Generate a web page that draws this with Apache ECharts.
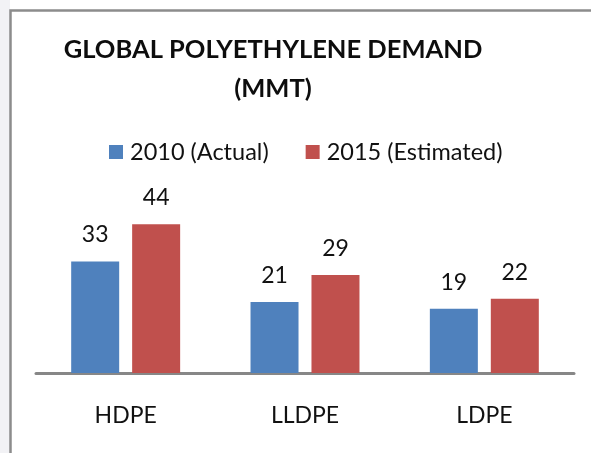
<!DOCTYPE html>
<html>
<head>
<meta charset="utf-8">
<script src="https://cdn.jsdelivr.net/npm/echarts@6/dist/echarts.min.js"></script>
<style>
    html, body { margin: 0; padding: 0; background: #fff; }
    #chart { width: 591px; height: 453px; }
</style>
</head>
<body>
<div id="chart"></div>
<script>
    // 数据
    const categories = ['HDPE', 'LLDPE', 'LDPE'];
    const seriesNames = ['2010 (Actual)', '2015 (Estimated)'];
    const actual2010 = [33, 21, 19];
    const estimated2015 = [44, 29, 22];

    const font = 'Lato';
    const chart = echarts.init(document.getElementById('chart'));

    const barLabel = {
        show: true,
        position: 'top',
        distance: 15,
        color: '#111',
        fontFamily: font,
        fontSize: 23
    };

    const option = {
        animation: false,
        color: ['#4f81bd', '#c0504d'],
        title: {
            text: 'GLOBAL POLYETHYLENE DEMAND\n(MMT)',
            left: 273,
            top: 30,
            padding: 0,
            textAlign: 'center',
            textStyle: {
                fontFamily: font,
                fontWeight: 'bold',
                fontSize: 25.5,
                lineHeight: 39,
                color: '#0d0d0d'
            }
        },
        legend: {
            data: seriesNames,
            left: 109,
            top: 140,
            padding: 0,
            itemWidth: 14,
            itemHeight: 14,
            itemGap: 37,
            icon: 'rect',
            textStyle: {
                fontFamily: font,
                fontSize: 23.5,
                color: '#111',
                padding: [0, 0, 0, 2]
            }
        },
        grid: {
            left: 36,
            right: 17,
            top: 204,
            bottom: 80,
            containLabel: false
        },
        xAxis: {
            type: 'category',
            data: categories,
            axisLine: {
                lineStyle: { color: '#878787', width: 3 }
            },
            axisTick: { show: false },
            axisLabel: {
                margin: 31,
                color: '#111',
                fontFamily: font,
                fontSize: 23
            }
        },
        yAxis: {
            type: 'value',
            min: 0,
            max: 50,
            show: false
        },
        series: [
            {
                name: seriesNames[0],
                type: 'bar',
                barWidth: 48,
                barGap: '27%',
                data: actual2010,
                label: barLabel
            },
            {
                name: seriesNames[1],
                type: 'bar',
                barWidth: 48,
                barGap: '27%',
                data: estimated2015,
                label: barLabel
            }
        ],
        graphic: [
            // 左侧背景
            {
                type: 'rect',
                shape: { x: 0, y: 0, width: 10, height: 453 },
                style: { fill: '#f2f2f5' },
                silent: true
            },
            // 边框
            {
                type: 'rect',
                shape: { x: 10.5, y: 10.5, width: 600, height: 460 },
                style: { fill: 'none', stroke: '#8c8c8c', lineWidth: 2.5 },
                silent: true
            }
        ]
    };

    chart.setOption(option);
</script>
</body>
</html>
